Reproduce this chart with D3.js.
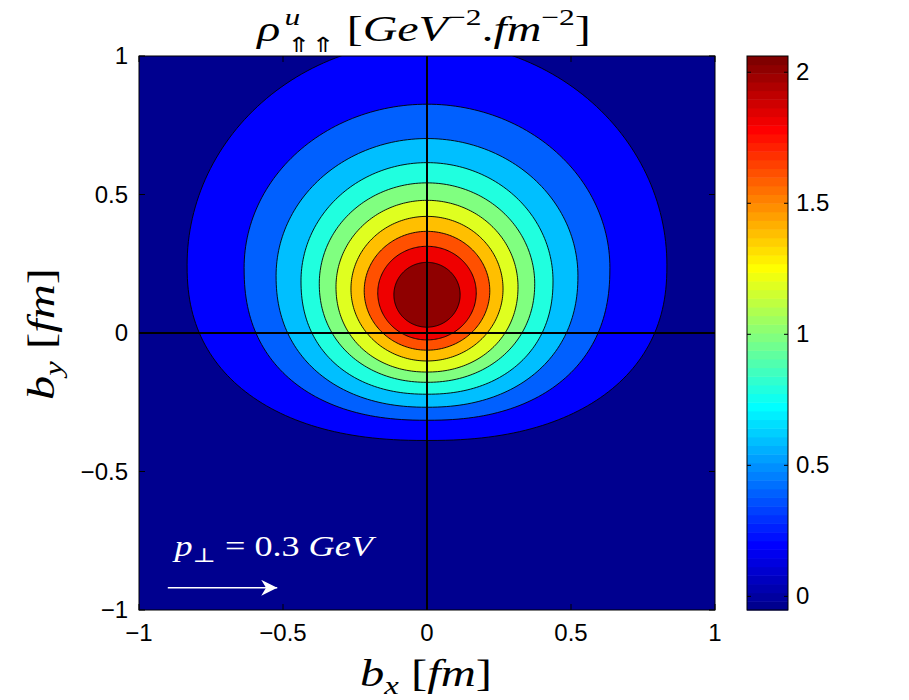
<!DOCTYPE html>
<html>
<head>
<meta charset="utf-8">
<script src="https://cdn.jsdelivr.net/npm/d3@7"></script>
<style>
  body { margin: 0; background: #fff; }
  svg text { fill: #000; }
  .tick-label { font-family: "Liberation Sans", Arial, sans-serif; font-size: 24px; }
  .math { font-family: "Liberation Serif", "DejaVu Serif", serif; }
</style>
</head>
<body>
<svg id="chart" width="909" height="700"></svg>
<script>
// Axis ticks
const xTicks = [-1, -0.5, 0, 0.5, 1];
const yTicks = [-1, -0.5, 0, 0.5, 1];
const cbTicks = [0, 0.5, 1, 1.5, 2];

// Filled contour levels (GeV^-2 fm^-2) and the shape of each level curve (fm)
const levels      = [0.2, 0.4, 0.6, 0.8, 1.0, 1.2, 1.4, 1.6, 1.8, 2.0];
const halfWidth   = [0.833, 0.635, 0.524, 0.4375, 0.374, 0.316, 0.264, 0.218, 0.171, 0.115];
const widestY     = [0.246, 0.236, 0.207, 0.188, 0.178, 0.167, 0.159, 0.152, 0.145, 0.138];
const topY        = [1.054, 0.826, 0.702, 0.615, 0.542, 0.479, 0.421, 0.367, 0.313, 0.255];
const bottomY     = [-0.388, -0.315, -0.268, -0.221, -0.178, -0.141, -0.101, -0.062, -0.025, 0.021];
const bottomShape = [2.3, 2.3, 2.2, 2.2, 2.1, 2.1, 2.0, 2.0, 2.0, 2.0];
const valueRange  = [-0.052, 2.062];

// Layout
const plot = {left: 139, top: 56, right: 715, bottom: 610};
const cb = {left: 747, right: 788};

const svg = d3.select("#chart");

const x = d3.scaleLinear().domain([-1, 1]).range([plot.left, plot.right]);
const y = d3.scaleLinear().domain([-1, 1]).range([plot.bottom, plot.top]);
const cbY = d3.scaleLinear().domain(valueRange).range([plot.bottom, plot.top]);

// MATLAB jet(m)
function jet(m) {
    const n = Math.ceil(m / 4);
    const u = [];
    for (let i = 1; i <= n; i++) u.push(i / n);
    for (let i = 1; i < n; i++) u.push(1);
    for (let i = n; i >= 1; i--) u.push(i / n);
    const g0 = Math.ceil(n / 2) - (m % 4 === 1 ? 1 : 0);
    const r = new Array(m).fill(0), g = new Array(m).fill(0), b = new Array(m).fill(0);
    u.forEach((v, k) => {
        const gi = g0 + k;
        if (gi >= 0 && gi < m) g[gi] = v;
        if (gi + n >= 0 && gi + n < m) r[gi + n] = v;
        if (gi - n >= 0 && gi - n < m) b[gi - n] = v;
    });
    return d3.range(m).map(i => d3.rgb(r[i] * 255, g[i] * 255, b[i] * 255).formatHex());
}
const jetColors = jet(64);
const color = d3.scaleQuantize().domain(valueRange).range(jetColors);

// stretch a text horizontally so it spans [x0, x1] (the latex text in the original is wide)
function fitWidth(sel, x0, x1) {
    const bb = sel.node().getBBox();
    const s = (x1 - x0) / bb.width;
    sel.attr("transform", `translate(${x0 - bb.x * s},0) scale(${s},1)`);
}

////////// Contour plot //////////

svg.append("clipPath").attr("id", "plotClip")
    .append("rect")
    .attr("x", plot.left).attr("y", plot.top)
    .attr("width", plot.right - plot.left).attr("height", plot.bottom - plot.top);

const plotG = svg.append("g").attr("clip-path", "url(#plotClip)");

plotG.append("rect")
    .attr("x", plot.left).attr("y", plot.top)
    .attr("width", plot.right - plot.left).attr("height", plot.bottom - plot.top)
    .attr("fill", color(valueRange[0]));

const contours = levels.map((lv, i) => ({
    level: lv, hw: halfWidth[i], cy: widestY[i], top: topY[i], bot: bottomY[i], p: bottomShape[i]
}));

const line = d3.line()
    .x(d => x(d[0]))
    .y(d => y(d[1]))
    .curve(d3.curveLinearClosed);

function outline(c) {
    return d3.range(0, 240).map(i => {
        const t = i / 240 * 2 * Math.PI;
        const cs = Math.cos(t), sn = Math.sin(t);
        const up = sn >= 0;
        const ex = 2 / (up ? 2 : c.p);
        const px = c.hw * Math.sign(cs) * Math.pow(Math.abs(cs), ex);
        const ry = up ? (c.top - c.cy) : (c.cy - c.bot);
        const py = c.cy + ry * Math.sign(sn) * Math.pow(Math.abs(sn), ex);
        return [px, py];
    });
}

plotG.selectAll("path.contour")
    .data(contours)
    .enter().append("path")
    .attr("class", "contour")
    .attr("d", d => line(outline(d)))
    .attr("fill", d => color(d.level))
    .attr("stroke", "#000")
    .attr("stroke-width", 0.9);

// Zero lines
plotG.append("line")
    .attr("x1", x(-1)).attr("x2", x(1)).attr("y1", y(0)).attr("y2", y(0))
    .attr("stroke", "#000").attr("stroke-width", 2);
plotG.append("line")
    .attr("x1", x(0)).attr("x2", x(0)).attr("y1", y(-1)).attr("y2", y(1))
    .attr("stroke", "#000").attr("stroke-width", 2);

// Annotation
const note = plotG.append("text")
    .attr("class", "math")
    .attr("x", 0).attr("y", 556)
    .style("font-size", "29px")
    .style("fill", "#fff")
    .call(t => {
        t.append("tspan").style("font-style", "italic").text("p");
        t.append("tspan").attr("dy", 6).style("font-size", "20px").text("\u22A5");
        t.append("tspan").attr("dy", -6).text("  =  0.3  ");
        t.append("tspan").style("font-style", "italic").text("GeV");
    });
fitWidth(note, 172, 377);

svg.append("defs").append("marker")
    .attr("id", "arrowHead")
    .attr("viewBox", "0 0 10 10")
    .attr("refX", 10).attr("refY", 5)
    .attr("markerUnits", "userSpaceOnUse")
    .attr("markerWidth", 24).attr("markerHeight", 16)
    .attr("orient", "auto")
    .append("path")
    .attr("d", "M0,0 L10,5 L0,10 L3,5 Z")
    .attr("fill", "#fff");

plotG.append("line")
    .attr("x1", x(-0.9)).attr("x2", x(-0.52))
    .attr("y1", y(-0.92)).attr("y2", y(-0.92))
    .attr("stroke", "#fff").attr("stroke-width", 1.5)
    .attr("marker-end", "url(#arrowHead)");

// Axes box and inner ticks
svg.append("rect")
    .attr("x", plot.left).attr("y", plot.top)
    .attr("width", plot.right - plot.left).attr("height", plot.bottom - plot.top)
    .attr("fill", "none").attr("stroke", "#000").attr("stroke-width", 1);

const tickLen = 6;
const ticksG = svg.append("g").attr("stroke", "#000").attr("stroke-width", 1);
xTicks.forEach(v => {
    ticksG.append("line").attr("x1", x(v)).attr("x2", x(v)).attr("y1", plot.bottom).attr("y2", plot.bottom - tickLen);
    ticksG.append("line").attr("x1", x(v)).attr("x2", x(v)).attr("y1", plot.top).attr("y2", plot.top + tickLen);
});
yTicks.forEach(v => {
    ticksG.append("line").attr("x1", plot.left).attr("x2", plot.left + tickLen).attr("y1", y(v)).attr("y2", y(v));
    ticksG.append("line").attr("x1", plot.right).attr("x2", plot.right - tickLen).attr("y1", y(v)).attr("y2", y(v));
});

const fmt = v => (v < 0 ? "\u2212" : "") + Math.abs(v);

svg.selectAll("text.xtick")
    .data(xTicks)
    .enter().append("text")
    .attr("class", "tick-label xtick")
    .attr("x", d => x(d)).attr("y", plot.bottom + 31)
    .attr("text-anchor", "middle")
    .text(fmt);

svg.selectAll("text.ytick")
    .data(yTicks)
    .enter().append("text")
    .attr("class", "tick-label ytick")
    .attr("x", plot.left - 11).attr("y", d => y(d) + 8)
    .attr("text-anchor", "end")
    .text(fmt);

// Axis labels
const xLabel = svg.append("text")
    .attr("class", "math")
    .attr("x", 0).attr("y", 686)
    .style("font-size", "37px")
    .call(t => {
        t.append("tspan").style("font-style", "italic").text("b");
        t.append("tspan").attr("dy", 8).style("font-size", "25px").style("font-style", "italic").text("x");
        t.append("tspan").attr("dy", -8).text("  [");
        t.append("tspan").style("font-style", "italic").text("fm");
        t.append("tspan").text("]");
    });
fitWidth(xLabel, 360, 492);

const yLabelG = svg.append("g").attr("transform", "translate(54,400) rotate(-90)");
const yLabel = yLabelG.append("text")
    .attr("class", "math")
    .attr("x", 0).attr("y", 0)
    .style("font-size", "37px")
    .call(t => {
        t.append("tspan").style("font-style", "italic").text("b");
        t.append("tspan").attr("dy", 8).style("font-size", "25px").style("font-style", "italic").text("y");
        t.append("tspan").attr("dy", -8).text("  [");
        t.append("tspan").style("font-style", "italic").text("fm");
        t.append("tspan").text("]");
    });
fitWidth(yLabel, 0, 132);

// Title
const title = svg.append("text")
    .attr("class", "math")
    .attr("x", 0).attr("y", 41)
    .style("font-size", "35px")
    .call(t => {
        t.append("tspan").style("font-style", "italic").text("\u03C1");
        t.append("tspan").attr("dx", 3).attr("dy", -16).style("font-size", "23px").style("font-style", "italic").text("u");
        t.append("tspan").attr("dx", -10).attr("dy", 27).style("font-size", "21px")
            .style("font-family", "DejaVu Sans").text("\u21D1\u21D1");
        t.append("tspan").attr("dy", -11).text("  [");
        t.append("tspan").style("font-style", "italic").text("GeV");
        t.append("tspan").attr("dy", -16).style("font-size", "23px").text("\u22122");
        t.append("tspan").attr("dy", 16).text(".");
        t.append("tspan").style("font-style", "italic").text("fm");
        t.append("tspan").attr("dy", -16).style("font-size", "23px").text("\u22122");
        t.append("tspan").attr("dy", 16).text("]");
    });
fitWidth(title, 256, 591);

////////// Colorbar //////////

const bandStep = (valueRange[1] - valueRange[0]) / jetColors.length;
svg.append("g").selectAll("rect")
    .data(jetColors)
    .enter().append("rect")
    .attr("x", cb.left)
    .attr("width", cb.right - cb.left)
    .attr("y", (d, i) => cbY(valueRange[0] + (i + 1) * bandStep))
    .attr("height", (d, i) => cbY(valueRange[0] + i * bandStep) - cbY(valueRange[0] + (i + 1) * bandStep) + 0.5)
    .attr("fill", d => d);

svg.append("rect")
    .attr("x", cb.left).attr("y", plot.top)
    .attr("width", cb.right - cb.left).attr("height", plot.bottom - plot.top)
    .attr("fill", "none").attr("stroke", "#000").attr("stroke-width", 1);

const cbTickG = svg.append("g").attr("stroke", "#000").attr("stroke-width", 1);
cbTicks.forEach(v => {
    cbTickG.append("line").attr("x1", cb.left).attr("x2", cb.left + 4).attr("y1", cbY(v)).attr("y2", cbY(v));
    cbTickG.append("line").attr("x1", cb.right).attr("x2", cb.right - 4).attr("y1", cbY(v)).attr("y2", cbY(v));
});

svg.selectAll("text.cbtick")
    .data(cbTicks)
    .enter().append("text")
    .attr("class", "tick-label cbtick")
    .attr("x", cb.right + 8).attr("y", d => cbY(d) + 8)
    .text(d => d);
</script>
</body>
</html>
